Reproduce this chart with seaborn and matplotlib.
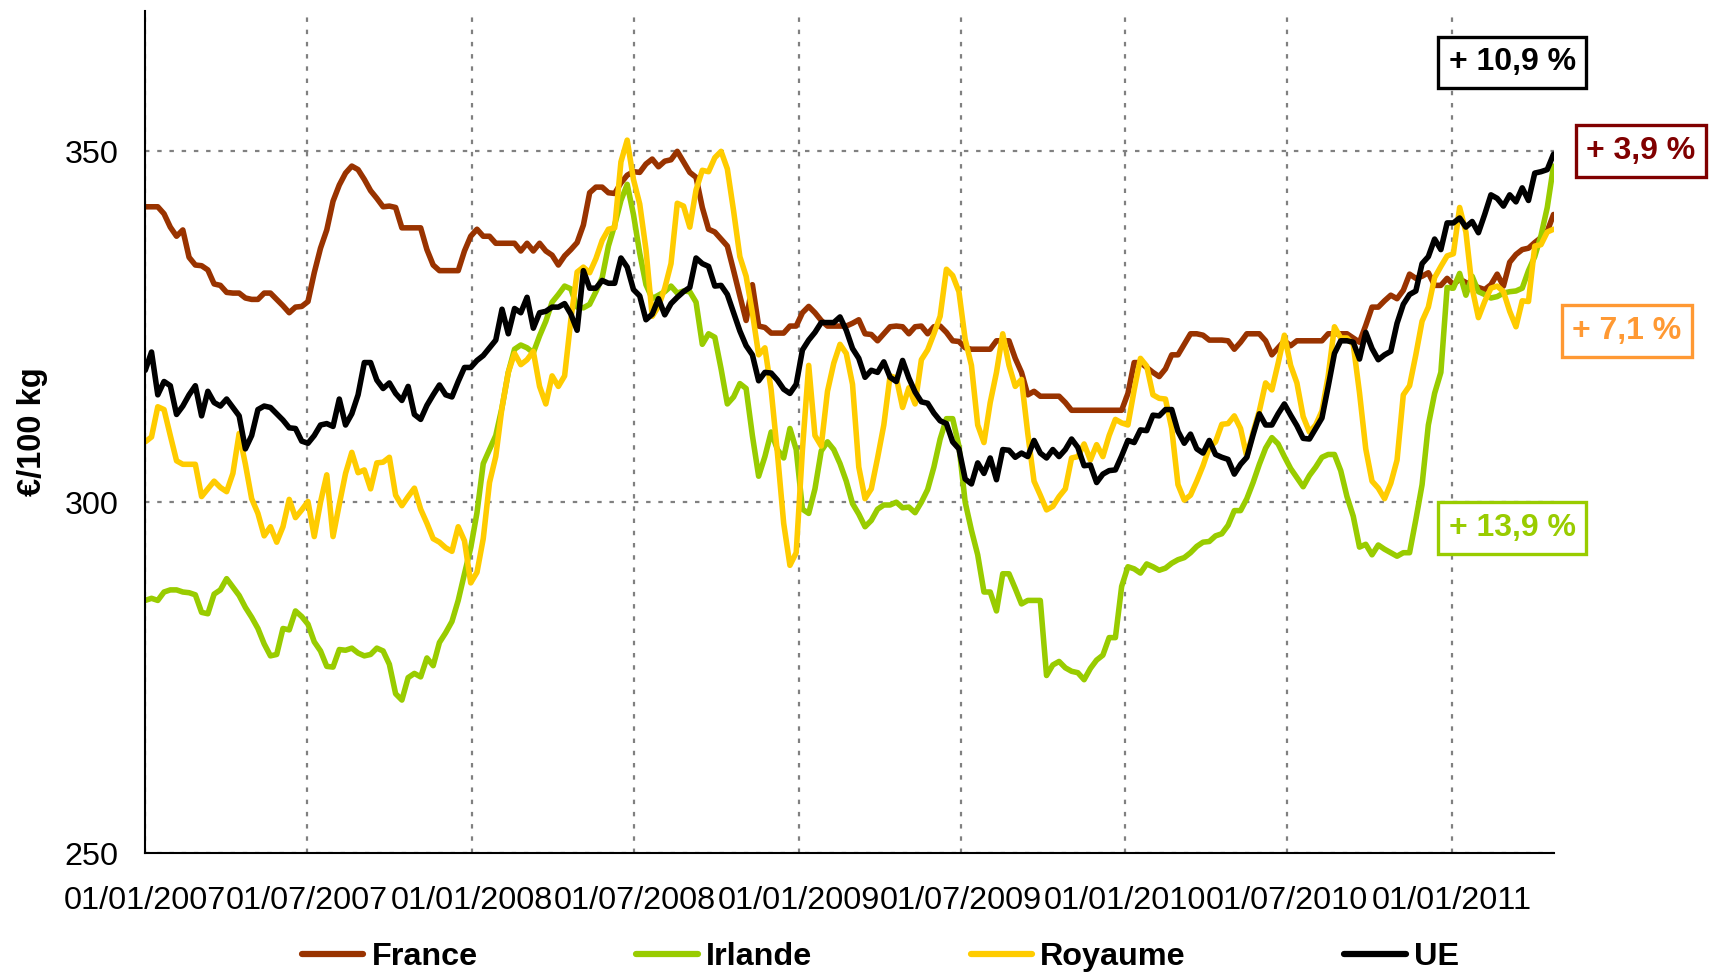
import numpy as np
import pandas as pd
import matplotlib
matplotlib.use("Agg")
import matplotlib.pyplot as plt
import matplotlib.dates as mdates
from matplotlib.lines import Line2D
import seaborn as sns

# weekly prices, EUR/100 kg, from the first week of 2007
start_date = "2007-01-01"

france = [
    342.1, 342.1, 342.1, 341.1, 339.2, 337.9, 338.8, 334.9, 333.8, 333.7, 333.1, 331.1, 330.9, 329.9, 329.8, 329.8,
    329.1, 328.9, 328.9, 329.8, 329.8, 328.9, 328.0, 327.0, 327.8, 327.9, 328.6, 332.7, 336.2, 338.8, 342.9, 345.2,
    346.9, 347.9, 347.4, 346.0, 344.4, 343.3, 342.1,
    342.2, 342.0, 339.1, 339.1, 339.1, 339.1, 336.0, 333.8, 333.0, 333.0, 333.0, 333.0, 335.8, 337.9, 338.9, 337.9,
    337.9, 336.9, 336.9, 336.9, 336.9, 335.8, 336.9, 335.8, 336.9, 335.8, 335.2, 333.8, 335.1, 336.0, 337.0, 339.5,
    344.1, 344.9, 344.9, 344.1, 344.0,
    345.5, 346.6, 347.1, 347.0, 348.2, 348.9, 347.8, 348.6, 348.8, 350.0, 348.5, 347.0, 346.3, 342.0, 338.9, 338.5,
    337.5, 336.5, 333.0, 329.4, 325.9, 331.0, 325.1, 324.9, 324.1, 324.1, 324.1, 325.1, 325.1, 327.0, 327.9, 327.0,
    325.9, 325.1, 325.1, 325.1, 325.1, 325.5, 326.0,
    324.0, 323.9, 323.0, 324.0, 325.0, 325.1, 325.0, 324.0, 325.0, 325.1, 324.0, 325.0, 325.1, 324.2, 323.0, 322.9,
    322.0, 321.8, 321.8, 321.8, 321.8, 323.0, 323.0, 323.0, 320.5, 318.5, 315.3, 315.8, 315.1, 315.1, 315.1, 315.1,
    314.2, 313.1, 313.1, 313.1, 313.1, 313.1,
    313.1, 313.1, 313.1, 313.1, 315.5, 319.9, 319.9, 319.2, 318.5, 317.9, 319.0, 321.0, 321.0, 322.5, 324.0, 324.0,
    323.8, 323.1, 323.1, 323.1, 323.0, 321.8, 322.8, 324.0, 324.0, 324.0, 323.0, 321.0, 322.0, 323.0, 322.3, 323.0,
    323.0, 323.0, 323.0, 323.0, 324.0, 324.0,
    324.0, 324.0, 323.4, 322.8, 325.2, 327.8, 327.8, 328.7, 329.5, 329.0, 330.2, 332.5, 331.9, 332.2, 332.7, 330.9,
    330.9, 331.9, 331.0, 331.8, 331.3, 331.0, 330.6, 330.3, 331.0, 332.5, 330.8, 334.2, 335.3, 336.0, 336.2, 337.0,
    337.7, 338.6, 341.0,
]

irlande = [
    286.0, 286.3, 286.0, 287.2, 287.5, 287.5, 287.2, 287.1, 286.8, 284.3, 284.1, 286.9, 287.5, 289.1, 287.9, 286.7,
    285.0, 283.6, 282.0, 279.8, 278.1, 278.3, 282.0, 281.8, 284.5, 283.7, 282.6, 280.1, 278.8, 276.6, 276.5, 279.0,
    278.9, 279.2, 278.5, 278.1, 278.3, 279.2, 278.8,
    276.9, 272.7, 271.8, 275.0, 275.6, 275.1, 277.8, 276.7, 280.0, 281.4, 283.0, 286.0, 289.8, 293.5, 298.5, 305.5,
    307.5, 309.5, 313.5, 318.5, 321.8, 322.4, 322.0, 321.3, 323.7, 325.8, 328.5, 329.6, 330.8, 330.4, 327.8, 327.7,
    328.2, 330.0, 332.0, 336.5, 339.5,
    343.0, 345.3, 341.0, 335.5, 331.0, 329.0, 329.5, 330.0, 330.8, 329.8, 330.1, 330.0, 328.5, 322.5, 324.0, 323.5,
    319.0, 314.0, 315.0, 316.9, 316.2, 309.5, 303.7, 306.5, 310.0, 307.5, 306.3, 310.5, 307.5, 299.0, 298.4, 301.9,
    307.3, 308.6, 307.5, 305.5, 303.0, 299.8, 298.3,
    296.5, 297.4, 299.0, 299.6, 299.6, 300.0, 299.2, 299.3, 298.5, 300.0, 301.8, 305.0, 309.0, 311.9, 311.9, 308.0,
    300.0, 296.0, 292.5, 287.2, 287.2, 284.5, 289.8, 289.8, 287.7, 285.5, 286.0, 286.0, 286.0, 275.3, 276.8, 277.3,
    276.4, 275.9, 275.7, 274.7, 276.3, 277.5,
    278.2, 280.7, 280.7, 288.0, 290.8, 290.5, 289.9, 291.2, 290.8, 290.3, 290.6, 291.3, 291.8, 292.1, 292.8, 293.7,
    294.3, 294.4, 295.2, 295.5, 296.7, 298.8, 298.8, 300.5, 302.8, 305.4, 307.7, 309.2, 308.3, 306.5, 304.8, 303.5,
    302.2, 303.8, 305.0, 306.4, 306.8, 306.8,
    304.5, 300.8, 298.0, 293.6, 294.0, 292.5, 293.9, 293.3, 292.8, 292.3, 292.8, 292.8, 297.5, 302.5, 311.0, 315.5,
    318.5, 330.6, 330.5, 332.6, 329.5, 332.2, 330.0, 329.6, 329.1, 329.3, 329.8, 330.0, 330.1, 330.5, 333.0, 335.0,
    338.0, 342.0, 347.9,
]

royaume = [
    308.6, 309.3, 313.6, 313.2, 309.5, 305.9, 305.4, 305.4, 305.4, 300.8, 301.9, 303.0, 302.1, 301.5, 304.1, 309.8,
    305.4, 300.5, 298.4, 295.2, 296.5, 294.3, 296.5, 300.4, 297.8, 298.9, 300.1, 295.1, 300.0, 303.9, 295.1, 299.7,
    304.1, 307.1, 304.2, 304.6, 301.9, 305.6, 305.7,
    306.4, 301.0, 299.5, 300.8, 302.0, 299.0, 297.0, 294.8, 294.3, 293.5, 293.0, 296.5, 294.5, 288.5, 290.0, 294.8,
    302.8, 306.5, 313.5, 318.5, 321.2, 319.6, 320.3, 321.5, 316.5, 314.0, 318.0, 316.5, 318.0, 326.0, 332.8, 333.5,
    332.7, 334.7, 337.3, 338.9, 339.1,
    348.5, 351.6, 346.0, 342.5, 336.0, 326.5, 327.9, 330.5, 334.0, 342.6, 342.2, 339.2, 344.5, 347.3, 347.1, 349.1,
    350.0, 347.5, 341.5, 335.0, 332.2, 327.0, 321.0, 322.0, 316.0, 307.0, 297.0, 291.0, 292.8, 307.5, 319.5, 309.5,
    308.0, 315.8, 319.8, 322.5, 321.2, 316.8, 305.0,
    300.5, 301.9, 306.3, 311.0, 318.0, 317.7, 313.5, 316.3, 314.0, 320.3, 321.7, 324.0, 326.5, 333.2, 332.3, 330.0,
    323.2, 319.5, 311.0, 308.5, 314.2, 318.5, 324.0, 319.5, 316.5, 317.5, 309.8, 303.0, 301.0, 298.9, 299.4, 300.8,
    301.9, 306.3, 306.5, 308.3, 306.0, 308.2,
    306.5, 309.5, 311.8, 311.3, 311.0, 316.0, 320.5, 319.4, 315.3, 314.8, 314.7, 310.5, 302.5, 300.3, 301.0, 303.0,
    305.2, 307.8, 308.6, 311.1, 311.2, 312.3, 310.5, 306.5, 310.0, 313.0, 317.0, 316.0, 319.8, 323.8, 319.5, 317.0,
    312.2, 310.0, 311.0, 313.0, 318.0, 325.0,
    323.4, 323.4, 322.5, 315.6, 307.6, 303.0, 302.0, 300.5, 302.7, 306.0, 315.3, 316.6, 321.0, 325.8, 327.8, 332.0,
    333.6, 335.1, 335.4, 342.0, 338.5, 330.5, 326.3, 328.6, 330.5, 330.8, 330.0, 327.2, 325.0, 328.7, 328.6, 336.5,
    336.7, 338.5, 338.9,
]

ue = [
    318.8, 321.4, 315.3, 317.2, 316.6, 312.5, 313.7, 315.3, 316.6, 312.3, 315.8, 314.2, 313.7, 314.7, 313.5, 312.3,
    307.6, 309.5, 313.2, 313.7, 313.5, 312.6, 311.7, 310.6, 310.5, 308.7, 308.4, 309.5, 311.0, 311.2, 310.8, 314.7,
    311.0, 312.6, 315.3, 319.9, 319.9, 317.4, 316.2,
    317.0, 315.5, 314.5, 316.5, 312.5, 311.8, 313.8, 315.3, 316.7, 315.3, 315.0, 317.2, 319.2, 319.2, 320.2, 320.9,
    322.0, 323.1, 327.5, 324.0, 327.6, 327.0, 329.2, 324.8, 327.0, 327.2, 327.8, 327.8, 328.3, 326.8, 324.5, 333.0,
    330.5, 330.5, 331.6, 331.2, 331.2,
    334.8, 333.5, 330.3, 329.4, 326.0, 326.8, 329.0, 326.7, 328.3, 329.2, 330.0, 330.6, 334.8, 334.0, 333.6, 330.8,
    330.9, 329.6, 327.0, 324.4, 322.3, 321.0, 317.3, 318.5, 318.4, 317.4, 316.1, 315.5, 316.8, 321.7, 323.1, 324.2,
    325.6, 325.6, 325.6, 326.4, 324.5, 321.9, 320.5,
    317.8, 318.8, 318.5, 320.0, 317.8, 317.2, 320.2, 317.7, 315.7, 314.3, 314.1, 312.7, 311.6, 311.2, 308.6, 307.6,
    303.3, 302.6, 305.6, 304.1, 306.3, 303.2, 307.5, 307.4, 306.4, 307.0, 306.5, 308.8, 307.0, 306.3, 307.5, 306.5,
    307.5, 309.0, 307.8, 305.2, 305.3, 302.8,
    304.0, 304.5, 304.6, 306.6, 308.8, 308.5, 310.3, 310.2, 312.4, 312.3, 313.2, 313.2, 310.1, 308.4, 309.7, 307.6,
    307.0, 308.8, 306.8, 306.4, 306.1, 304.0, 305.4, 306.4, 309.6, 312.6, 311.0, 311.0, 312.6, 314.0, 312.4, 310.9,
    309.1, 309.0, 310.5, 312.0, 316.5, 321.2,
    323.0, 323.0, 322.8, 320.4, 324.2, 321.9, 320.3, 321.0, 321.5, 325.5, 328.2, 329.6, 330.1, 334.0, 335.0, 337.5,
    336.0, 339.8, 339.8, 340.5, 339.2, 340.0, 338.4, 341.0, 343.8, 343.3, 342.2, 343.8, 342.8, 344.8, 343.0, 346.9,
    347.1, 347.4, 349.6,
]

series_names = ["France", "Irlande", "Royaume", "UE"]
series_colors = ["#993300", "#99CC00", "#FFCC00", "#000000"]

# variation labels shown at the right
var_labels = ["+ 10,9 %", "+ 3,9 %", "+ 7,1 %", "+ 13,9 %"]
var_colors = ["#000000", "#800000", "#FF9933", "#99CC00"]

dates = pd.date_range(start_date, periods=len(ue), freq="7D")
frames = []
for name, vals in zip(series_names, [france, irlande, royaume, ue]):
    frames.append(pd.DataFrame({"date": dates, "prix": vals, "pays": name}))
df = pd.concat(frames, ignore_index=True)

sns.set_theme(style="white")
plt.rcParams["font.family"] = ["Liberation Sans", "DejaVu Sans"]
plt.rcParams["text.color"] = "black"

fig = plt.figure(figsize=(17.13, 9.74), dpi=100)
ax = fig.add_axes([0.0848, 0.1242, 0.8221, 0.8645])

sns.lineplot(data=df, x="date", y="prix", hue="pays", hue_order=series_names,
             palette=series_colors, linewidth=4, ax=ax, legend=False)

ax.set_ylim(250, 370)
ax.set_yticks([250, 300, 350])
ax.set_xlim(pd.Timestamp("2007-01-01"), pd.Timestamp("2011-04-25"))
ax.xaxis.set_major_locator(mdates.MonthLocator(bymonth=[1, 7]))
ax.xaxis.set_major_formatter(mdates.DateFormatter("%d/%m/%Y"))
ax.set_xlabel("")
ax.set_ylabel("")

ax.grid(True, color="#808080", linestyle=(0, (2, 3.5)), linewidth=1.6)
for side in ["top", "right"]:
    ax.spines[side].set_visible(False)
for side in ["left", "bottom"]:
    ax.spines[side].set_color("black")
    ax.spines[side].set_linewidth(1.5)

ax.tick_params(axis="both", direction="out", length=8, width=1.2,
               labelsize=23.3, colors="black")
ax.tick_params(axis="x", pad=16)
ax.tick_params(axis="y", pad=11)

fig.text(33 / 1713, 1 - 432 / 974, "€/100 kg", rotation=90, ha="center", va="center",
         fontsize=23.5, fontweight="bold", color="black")

handles = [Line2D([0], [0], color=c, lw=4.5) for c in series_colors]
leg = fig.legend(handles, series_names, loc="center", bbox_to_anchor=(0.514, 0.017), ncol=4,
                 frameon=False, prop={"weight": "bold", "size": 23.3}, handlelength=1.9,
                 handletextpad=0.25, columnspacing=4.9)
for t in leg.get_texts():
    t.set_color("black")

box_pos = [(0.8827, 0.9363), (0.9580, 0.8450), (0.9498, 0.6602), (0.8827, 0.4579)]
for (bx, by), lab, col in zip(box_pos, var_labels, var_colors):
    fig.text(bx, by, lab, ha="center", va="center", fontsize=23, fontweight="bold",
             color=col, bbox=dict(boxstyle="square,pad=0.33", fc="white", ec=col, lw=2.4))

fig.savefig("out.png", dpi=100)
